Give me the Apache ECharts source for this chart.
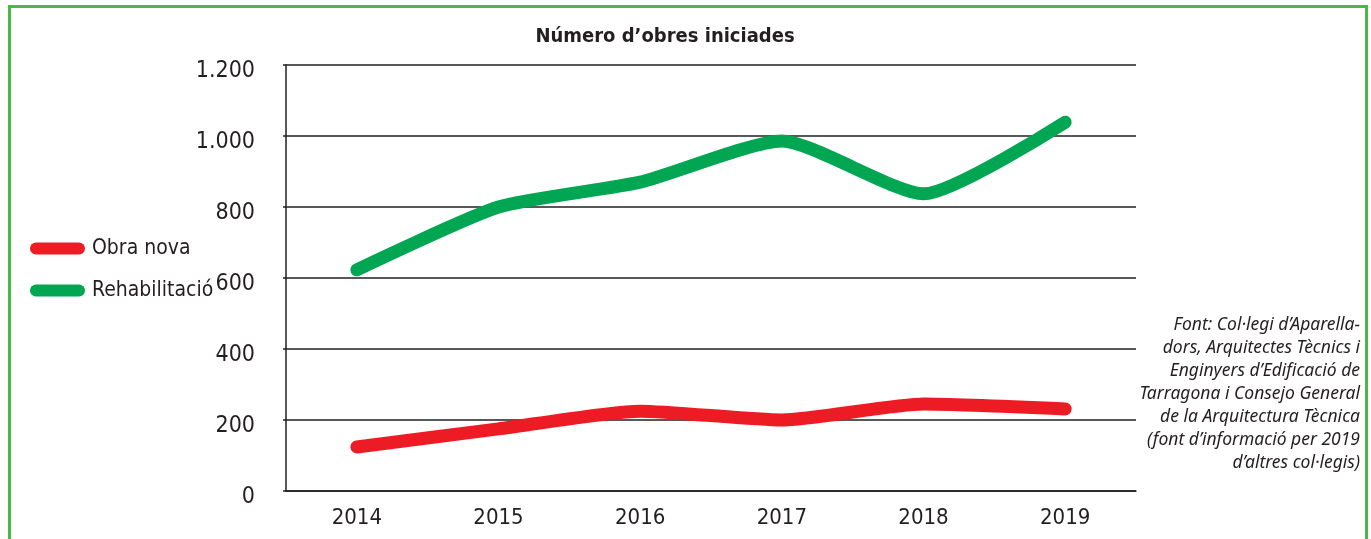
<!DOCTYPE html>
<html><head><meta charset="utf-8">
<script src="https://cdn.jsdelivr.net/npm/echarts@6/dist/echarts.min.js"></script>
<style>html,body{margin:0;padding:0;background:#fff}#c{width:1371px;height:539px}</style>
</head><body><div id="c"></div>
<script>
const title = "Número d’obres iniciades";
const years = ["2014","2015","2016","2017","2018","2019"];
const obraNova = [124, 175, 225, 200, 245, 231];
const rehabilitacio = [623, 800, 870, 986, 837, 1039];
const yTicks = { min: 0, max: 1200, interval: 200 };
const sourceLines = [
  "Font: Col·legi d’Aparella-",
  "dors, Arquitectes Tècnics i",
  "Enginyers d’Edificació de",
  "Tarragona i Consejo General",
  "de la Arquitectura Tècnica",
  "(font d’informació per 2019",
  "d’altres col·legis)"
];
const ink = "#231F20";
const narrow = "'DejaVu Sans Condensed', sans-serif";
const chart = echarts.init(document.getElementById('c'));
const pillIcon = 'path://M6,0 L49,0 A6,6 0 0 1 49,12 L6,12 A6,6 0 0 1 6,0 Z';
chart.setOption({
  animation: false,
  title: { text: title, left: 660, textAlign: 'center', top: 22,
    textStyle: { fontFamily: narrow, fontWeight: 'bold', fontSize: 20, color: ink } },
  legend: { orient: 'vertical', left: 25, top: 233, itemGap: 21, itemWidth: 55, itemHeight: 12,
    data: [{ name: 'Obra nova', icon: pillIcon }, { name: 'Rehabilitació', icon: pillIcon }],
    textStyle: { fontFamily: narrow, fontSize: 21, color: ink, padding: [0,0,0,2] } },
  grid: { left: 286, right: 235, top: 65, bottom: 48 },
  xAxis: { type: 'category', data: years, boundaryGap: true,
    axisLine: { lineStyle: { color: ink, width: 1.5 } }, axisTick: { show: false },
    axisLabel: { fontFamily: narrow, fontSize: 22, color: ink, margin: 16 } },
  yAxis: { type: 'value', min: yTicks.min, max: yTicks.max, interval: yTicks.interval,
    axisLine: { show: true, lineStyle: { color: ink, width: 1.5 } },
    axisTick: { show: true, length: 3, lineStyle: { color: ink, width: 1.5 } },
    splitLine: { lineStyle: { color: ink, width: 1.5 } },
    axisLabel: { fontFamily: narrow, fontSize: 23, color: ink, margin: 31,
      verticalAlign: 'top', lineHeight: 12,
      formatter: v => v >= 1000 ? Math.floor(v/1000) + '.' + String(v%1000).padStart(3,'0') : String(v) } },
  series: [
    { name: 'Obra nova', type: 'line', data: obraNova, smooth: 0.2, showSymbol: false,
      itemStyle: { color: '#ED1C24' },
      lineStyle: { color: '#ED1C24', width: 13, cap: 'round', join: 'round' } },
    { name: 'Rehabilitació', type: 'line', data: rehabilitacio, smooth: 0.2, showSymbol: false,
      itemStyle: { color: '#00A651' },
      lineStyle: { color: '#00A651', width: 13, cap: 'round', join: 'round' } }
  ],
  graphic: [
    { type: 'rect', shape: { x: 9.5, y: 6.5, width: 1357, height: 600 },
      style: { fill: 'none', stroke: '#4DB848', lineWidth: 3 }, silent: true },
    { type: 'text', x: 1360, y: 314, style: { text: sourceLines.join('\n'), textAlign: 'right',
      fontFamily: "'Noto Sans', sans-serif", fontStyle: 'italic', fontSize: 17.5, lineHeight: 23, fill: ink } }
  ]
});
</script></body></html>
